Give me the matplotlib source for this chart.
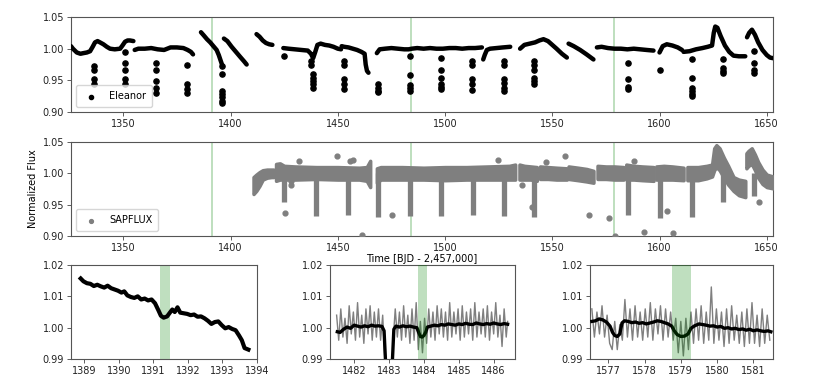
import matplotlib
matplotlib.use("Agg")
import matplotlib.pyplot as plt

# ---- Eleanor light curve (time, flux per segment) ----
eleanor_t = [
    [1325.6, 1326.5, 1328.3, 1330.0, 1331.4, 1333.0, 1334.5, 1335.7, 1336.8, 1338.0, 1339.1,
     1340.7, 1342.3, 1343.8, 1346.0, 1348.5, 1349.6, 1350.8, 1352.0, 1353.1, 1354.7],
    [1355.3, 1357.0, 1360.0, 1363.0, 1366.0, 1369.0, 1372.0, 1375.0, 1378.0, 1380.0, 1381.5, 1382.5],
    [1386.2, 1387.5, 1389.0, 1390.5, 1392.0, 1393.5, 1394.5, 1395.3, 1396.0],
    [1396.9, 1398.5, 1400.5, 1402.5, 1404.5, 1406.3, 1407.5],
    [1412.1, 1413.5, 1415.0, 1416.5, 1418.0, 1419.5],
    [1424.6, 1427.0, 1430.0, 1433.0, 1436.0, 1437.5, 1438.5, 1439.5, 1440.5, 1442.0, 1444.0,
     1446.0, 1448.0, 1450.0, 1451.5],
    [1451.8, 1453.0, 1455.0, 1457.0, 1459.0, 1461.0, 1462.5, 1463.0, 1463.6, 1464.3],
    [1468.2, 1469.5, 1472.0, 1475.0, 1478.0, 1481.0, 1483.0, 1484.5, 1487.0, 1490.0, 1493.0,
     1496.0, 1499.0, 1502.0, 1505.0, 1508.0, 1511.0, 1514.0, 1517.2],
    [1517.8, 1518.5, 1519.5, 1521.0, 1524.0, 1527.0, 1530.4],
    [1535.0, 1537.0, 1539.5, 1542.0, 1544.0, 1545.9, 1548.0, 1550.0, 1552.0, 1554.5, 1556.8],
    [1557.6, 1560.0, 1563.0, 1566.0, 1569.2],
    [1570.8, 1573.0, 1576.0, 1579.0, 1582.0, 1585.0, 1588.0, 1591.0, 1594.0, 1597.2],
    [1600.0, 1601.5, 1603.4, 1606.0, 1608.5, 1610.5],
    [1611.2, 1614.0, 1617.0, 1620.0, 1622.5, 1624.5, 1625.3, 1626.0, 1627.0, 1628.5, 1630.5,
     1632.5, 1634.5, 1637.0, 1640.0],
    [1640.8, 1641.8, 1643.1, 1644.5, 1646.0, 1648.0, 1650.0, 1651.5, 1652.9],
]
eleanor_f = [
    [1.004, 1.000, 0.994, 0.992, 0.993, 0.994, 0.996, 1.003, 1.010, 1.012, 1.010,
     1.007, 1.003, 1.000, 0.999, 1.000, 1.005, 1.011, 1.013, 1.013, 1.012],
    [0.998, 1.000, 1.000, 1.001, 0.999, 0.998, 1.002, 1.002, 1.001, 0.998, 0.995, 0.991],
    [1.026, 1.021, 1.015, 1.010, 1.004, 0.998, 0.990, 0.982, 0.975],
    [1.016, 1.012, 1.003, 0.995, 0.987, 0.980, 0.975],
    [1.023, 1.019, 1.013, 1.009, 1.007, 1.006],
    [1.001, 1.000, 0.999, 0.998, 0.997, 0.992, 0.985, 0.995, 1.006, 1.008, 1.006,
     1.005, 1.003, 1.000, 0.999],
    [1.004, 1.003, 1.002, 1.000, 0.998, 0.995, 0.992, 0.975, 0.965, 0.962],
    [0.993, 0.999, 1.000, 1.001, 1.000, 0.999, 0.999, 1.000, 1.001, 1.000, 1.001,
     1.000, 1.000, 1.001, 1.001, 1.000, 1.001, 1.001, 1.002],
    [0.983, 0.990, 0.998, 1.000, 1.001, 1.002, 1.003],
    [1.000, 1.006, 1.008, 1.010, 1.013, 1.015, 1.012, 1.006, 1.000, 0.992, 0.986],
    [1.008, 1.004, 0.998, 0.991, 0.983],
    [1.002, 1.003, 1.001, 1.000, 1.000, 0.999, 1.000, 0.999, 0.998, 0.997],
    [0.994, 1.004, 1.007, 1.005, 1.002, 0.998],
    [0.995, 0.996, 0.999, 1.001, 1.003, 1.005, 1.025, 1.035, 1.033, 1.020, 1.005,
     0.995, 0.989, 0.988, 0.988],
    [1.018, 1.025, 1.030, 1.022, 1.010, 0.998, 0.990, 0.986, 0.985],
]
# transit / outlier points below the main trend
eleanor_pts_t = [1336.2, 1336.2, 1336.2, 1336.2, 1350.6, 1350.6, 1350.6, 1350.6, 1350.6,
                 1365.2, 1365.2, 1365.2, 1365.2, 1365.2, 1379.7, 1379.7, 1379.7, 1379.7,
                 1396.0, 1396.0, 1396.0, 1396.0, 1396.0, 1396.0, 1396.0,
                 1424.9, 1437.6, 1437.6, 1438.4, 1438.4, 1438.4, 1438.4, 1438.4,
                 1452.9, 1452.9, 1452.9, 1452.9, 1452.9,
                 1468.9, 1468.9, 1468.9, 1468.9, 1483.7, 1483.7, 1483.7, 1483.7, 1483.7,
                 1498.0, 1498.0, 1498.0, 1498.0, 1498.0, 1498.0,
                 1512.5, 1512.5, 1512.5, 1512.5, 1512.5,
                 1527.6, 1527.6, 1527.6, 1527.6, 1527.6, 1527.6,
                 1541.7, 1541.7, 1541.7, 1541.7, 1541.7, 1541.7,
                 1585.5, 1585.5, 1585.5, 1585.5, 1600.3,
                 1615.1, 1615.1, 1615.1, 1615.1, 1615.1, 1615.1,
                 1629.6, 1629.6, 1629.6, 1629.6, 1644.2, 1644.2, 1644.2, 1644.2]
eleanor_pts_f = [0.972, 0.967, 0.952, 0.944, 0.994, 0.977, 0.967, 0.952, 0.945,
                 0.978, 0.967, 0.949, 0.938, 0.930, 0.974, 0.944, 0.937, 0.930,
                 0.973, 0.960, 0.933, 0.928, 0.923, 0.917, 0.915,
                 0.988, 0.980, 0.975, 0.960, 0.954, 0.949, 0.944, 0.938,
                 0.980, 0.975, 0.952, 0.944, 0.936,
                 0.944, 0.938, 0.933, 0.931, 0.988, 0.959, 0.942, 0.938, 0.933,
                 0.986, 0.967, 0.954, 0.945, 0.940, 0.936,
                 0.981, 0.975, 0.952, 0.944, 0.935,
                 0.981, 0.975, 0.952, 0.946, 0.938, 0.933,
                 0.980, 0.975, 0.967, 0.954, 0.949, 0.944,
                 0.978, 0.952, 0.940, 0.936, 0.966,
                 0.983, 0.954, 0.938, 0.933, 0.928, 0.925,
                 0.983, 0.970, 0.965, 0.962, 0.996, 0.978, 0.967, 0.962]

# ---- SAPFLUX: band envelope per segment ----
sap_t = [
    [1410.7, 1412.0, 1413.5, 1415.0, 1417.0, 1419.0, 1420.0],
    [1421.2, 1423.0, 1425.0, 1430.0, 1440.0, 1450.0, 1460.0, 1463.5, 1465.1],
    [1468.2, 1470.0, 1480.0, 1490.0, 1500.0, 1510.0, 1520.0, 1530.0, 1532.7],
    [1534.7, 1537.0, 1540.0, 1542.8],
    [1544.3, 1548.0, 1552.0, 1556.8],
    [1557.6, 1562.0, 1566.0, 1569.2],
    [1571.1, 1575.0, 1579.0, 1583.2],
    [1584.5, 1588.0, 1592.0, 1597.2],
    [1598.5, 1602.0, 1606.0, 1611.2],
    [1613.0, 1618.0, 1622.0, 1624.5, 1625.5, 1626.5, 1628.0, 1630.0, 1632.0, 1634.5, 1637.0, 1640.0],
    [1640.5, 1641.5, 1643.0, 1644.5, 1646.0, 1648.0, 1650.0, 1652.9],
]
sap_hi = [
    [0.994, 0.998, 1.002, 1.005, 1.006, 1.006, 1.006],
    [1.015, 1.016, 1.012, 1.011, 1.010, 1.010, 1.009, 1.010, 1.020],
    [1.008, 1.010, 1.010, 1.009, 1.010, 1.010, 1.011, 1.012, 1.014],
    [1.014, 1.012, 1.011, 1.010],
    [1.011, 1.010, 1.009, 1.008],
    [1.011, 1.009, 1.007, 1.004],
    [1.012, 1.011, 1.011, 1.010],
    [1.014, 1.012, 1.011, 1.010],
    [1.011, 1.012, 1.011, 1.009],
    [1.010, 1.010, 1.012, 1.014, 1.040, 1.045, 1.040, 1.025, 1.012, 0.994, 0.990, 0.988],
    [1.032, 1.036, 1.040, 1.030, 1.018, 1.006, 0.998, 0.995],
]
sap_lo = [
    [0.967, 0.972, 0.980, 0.990, 0.993, 0.994, 0.994],
    [0.988, 0.990, 0.990, 0.990, 0.991, 0.990, 0.990, 0.988, 0.978],
    [0.985, 0.990, 0.990, 0.990, 0.989, 0.990, 0.990, 0.990, 0.990],
    [0.990, 0.990, 0.990, 0.988],
    [0.991, 0.991, 0.990, 0.990],
    [0.991, 0.989, 0.987, 0.985],
    [0.991, 0.991, 0.990, 0.990],
    [0.990, 0.990, 0.989, 0.988],
    [0.990, 0.990, 0.990, 0.989],
    [0.989, 0.989, 0.992, 0.995, 1.005, 1.010, 1.005, 0.993, 0.982, 0.972, 0.965, 0.962],
    [1.008, 1.012, 1.015, 1.005, 0.993, 0.983, 0.978, 0.976],
]
sap_dip_t = [1424.9, 1439.9, 1454.6, 1468.9, 1483.7, 1498.2, 1513.0, 1527.6, 1541.7,
             1585.5, 1600.0, 1615.1, 1629.6, 1644.2]
sap_dip_f = [0.954, 0.932, 0.933, 0.931, 0.932, 0.932, 0.933, 0.932, 0.930,
             0.933, 0.928, 0.930, 0.954, 0.964]
sap_pts_t = [1425.4, 1428.1, 1428.1, 1432.1, 1449.5, 1455.7, 1457.0, 1461.2, 1475.2,
             1524.9, 1535.8, 1540.5, 1547.0, 1556.0, 1566.9, 1576.5, 1579.3, 1587.9,
             1593.0, 1603.7, 1606.5, 1646.6]
sap_pts_f = [0.937, 0.988, 0.981, 1.019, 1.027, 1.020, 1.021, 0.902, 0.934,
             1.021, 0.981, 0.946, 1.018, 1.028, 0.934, 0.929, 0.900, 1.020,
             0.907, 0.940, 0.905, 0.955]

# ---- marked events ----
event_t = [1391.3, 1483.95, 1579.0]
event_span = [(1391.18, 1391.48), (1483.83, 1484.08), (1578.77, 1579.29)]

# ---- zoom 1: Eleanor around 1391 ----
z1_t = [1388.90, 1388.98, 1389.08, 1389.18, 1389.28, 1389.38, 1389.48, 1389.58, 1389.68, 1389.78,
        1389.88, 1389.98, 1390.08, 1390.16, 1390.25, 1390.35, 1390.45, 1390.55, 1390.65, 1390.75,
        1390.85, 1390.95, 1391.05, 1391.15, 1391.22, 1391.30, 1391.40, 1391.48, 1391.55, 1391.62,
        1391.70, 1391.78, 1391.88, 1391.98, 1392.08, 1392.18, 1392.28, 1392.38, 1392.48, 1392.58,
        1392.68, 1392.78, 1392.88, 1392.98, 1393.08, 1393.18, 1393.28, 1393.38, 1393.48, 1393.56,
        1393.64, 1393.75]
z1_f = [1.0157, 1.0148, 1.0142, 1.0140, 1.0133, 1.0137, 1.0132, 1.0128, 1.0134, 1.0126,
        1.0122, 1.0118, 1.0112, 1.0116, 1.0103, 1.0098, 1.0095, 1.0100, 1.0090, 1.0093,
        1.0087, 1.0090, 1.0078, 1.0055, 1.0038, 1.0032, 1.0036, 1.0048, 1.0058, 1.0050,
        1.0065, 1.0048, 1.0046, 1.0044, 1.0040, 1.0042, 1.0035, 1.0036, 1.0030, 1.0022,
        1.0012, 1.0018, 1.0020, 1.0008, 0.9998, 1.0002, 0.9996, 0.9992, 0.9975, 0.9960,
        0.9935, 0.9930]

# ---- zoom 2: SAP (gray) + smoothed (black) around 1484 ----
z2_gray_t = [
    [1481.50, 1481.56, 1481.62, 1481.68, 1481.74, 1481.80, 1481.86, 1481.92, 1481.98, 1482.04,
     1482.10, 1482.16, 1482.22, 1482.28, 1482.34, 1482.40, 1482.46, 1482.52, 1482.58, 1482.64,
     1482.70, 1482.76, 1482.82, 1482.88, 1482.92],
    [1483.08, 1483.12, 1483.18, 1483.24, 1483.30, 1483.36, 1483.42, 1483.48, 1483.54, 1483.60,
     1483.66, 1483.72, 1483.78, 1483.84, 1483.90, 1483.96, 1484.02, 1484.08, 1484.14, 1484.20,
     1484.26, 1484.32, 1484.38, 1484.44, 1484.50, 1484.56, 1484.62, 1484.68, 1484.74, 1484.80,
     1484.86, 1484.92, 1484.98, 1485.04, 1485.10, 1485.16, 1485.22, 1485.28, 1485.34, 1485.40,
     1485.46, 1485.52, 1485.58, 1485.64, 1485.70, 1485.76, 1485.82, 1485.88, 1485.94, 1486.00,
     1486.06, 1486.12, 1486.18, 1486.24, 1486.30, 1486.36, 1486.40],
]
z2_gray_f = [
    [1.004, 0.996, 1.006, 0.997, 1.003, 0.995, 1.007, 0.998, 1.005, 0.996,
     1.008, 0.997, 1.004, 0.995, 1.006, 0.998, 1.007, 0.996, 1.005, 0.997,
     1.006, 0.996, 1.004, 0.990, 0.985],
    [0.985, 0.996, 1.006, 0.997, 1.005, 0.996, 1.007, 0.997, 1.004, 0.995,
     1.006, 0.996, 1.008, 0.993, 1.002, 0.992, 1.003, 0.995, 1.006, 0.997,
     1.005, 0.996, 1.007, 0.998, 1.006, 0.997, 1.005, 0.996, 1.008, 0.997,
     1.005, 0.998, 1.006, 0.996, 1.007, 0.997, 1.005, 0.998, 1.006, 0.996,
     1.008, 0.997, 1.005, 0.998, 1.006, 0.997, 1.007, 0.996, 1.005, 0.998,
     1.008, 0.997, 1.004, 0.994, 1.006, 0.997, 1.002],
]
z2_black_t = [
    [1481.52, 1481.6, 1481.7, 1481.8, 1481.9, 1482.0, 1482.1, 1482.2, 1482.3, 1482.4,
     1482.5, 1482.6, 1482.7, 1482.8, 1482.86, 1482.92],
    [1483.08, 1483.14, 1483.2, 1483.3, 1483.4, 1483.5, 1483.6, 1483.7, 1483.8, 1483.85,
     1483.9, 1483.95, 1484.0, 1484.05, 1484.1, 1484.2, 1484.3, 1484.4, 1484.5, 1484.6,
     1484.7, 1484.8, 1484.9, 1485.0, 1485.1, 1485.2, 1485.3, 1485.4, 1485.5, 1485.6,
     1485.7, 1485.8, 1485.9, 1486.0, 1486.1, 1486.2, 1486.3, 1486.4],
]
z2_black_f = [
    [0.9987, 0.9985, 0.9995, 1.0002, 0.9998, 1.0008, 1.0005, 1.0002, 1.0006, 1.0003,
     1.0008, 1.0005, 1.0006, 1.0004, 0.9990, 0.9850],
    [0.9850, 0.9995, 1.0005, 1.0002, 1.0006, 1.0003, 1.0005, 1.0002, 1.0000, 0.9985,
     0.9972, 0.9970, 0.9975, 0.9985, 1.0002, 1.0005, 1.0008, 1.0006, 1.0010, 1.0008,
     1.0012, 1.0010, 1.0008, 1.0012, 1.0010, 1.0014, 1.0011, 1.0010, 1.0015, 1.0012,
     1.0010, 1.0013, 1.0011, 1.0015, 1.0012, 1.0010, 1.0013, 1.0011],
]

# ---- zoom 3: SAP (gray) + smoothed (black) around 1579 ----
z3_gray_t = [1576.55, 1576.62, 1576.69, 1576.76, 1576.83, 1576.90, 1576.97, 1577.04, 1577.11, 1577.18,
             1577.25, 1577.32, 1577.39, 1577.46, 1577.53, 1577.60, 1577.67, 1577.74, 1577.81, 1577.88,
             1577.95, 1578.02, 1578.09, 1578.16, 1578.23, 1578.30, 1578.37, 1578.44, 1578.51, 1578.58,
             1578.65, 1578.72, 1578.79, 1578.86, 1578.93, 1579.00, 1579.07, 1579.14, 1579.21, 1579.28,
             1579.35, 1579.42, 1579.49, 1579.56, 1579.63, 1579.70, 1579.77, 1579.84, 1579.91, 1579.98,
             1580.05, 1580.12, 1580.19, 1580.26, 1580.33, 1580.40, 1580.47, 1580.54, 1580.61, 1580.68,
             1580.75, 1580.82, 1580.89, 1580.96, 1581.03, 1581.10, 1581.17, 1581.24, 1581.31, 1581.38,
             1581.45]
z3_gray_f = [1.006, 0.997, 1.005, 0.998, 1.007, 0.997, 1.004, 0.995, 0.993, 1.002,
             0.993, 1.001, 0.996, 1.009, 0.997, 1.006, 0.996, 1.007, 0.997, 1.005,
             0.996, 1.006, 0.997, 1.008, 0.996, 1.006, 0.998, 1.007, 0.996, 1.006,
             0.997, 1.005, 0.996, 1.003, 0.992, 1.002, 0.991, 1.003, 0.993, 1.005,
             0.995, 1.006, 0.996, 1.007, 0.995, 1.005, 0.996, 1.013, 0.995, 1.006,
             0.996, 1.005, 0.994, 1.006, 0.995, 1.007, 0.996, 1.004, 0.995, 1.005,
             0.994, 1.006, 0.995, 1.008, 0.995, 1.004, 0.994, 1.006, 0.995, 1.004,
             0.996]
z3_black_t = [1576.55, 1576.65, 1576.75, 1576.85, 1576.95, 1577.05, 1577.12, 1577.18, 1577.25, 1577.32,
              1577.38, 1577.45, 1577.55, 1577.65, 1577.75, 1577.85, 1577.95, 1578.05, 1578.15, 1578.25,
              1578.35, 1578.45, 1578.55, 1578.65, 1578.75, 1578.82, 1578.9, 1579.0, 1579.1, 1579.2,
              1579.28, 1579.38, 1579.5, 1579.6, 1579.7, 1579.8, 1579.9, 1580.0, 1580.1, 1580.2,
              1580.3, 1580.4, 1580.5, 1580.6, 1580.7, 1580.8, 1580.9, 1581.0, 1581.1, 1581.2,
              1581.3, 1581.4, 1581.48]
z3_black_f = [1.0020, 1.0022, 1.0028, 1.0025, 1.0018, 1.0005, 0.9985, 0.9975, 0.9972, 0.9980,
              1.0015, 1.0022, 1.0020, 1.0016, 1.0018, 1.0014, 1.0016, 1.0012, 1.0015, 1.0018,
              1.0022, 1.0020, 1.0016, 1.0012, 1.0005, 0.9990, 0.9978, 0.9972, 0.9973, 0.9980,
              0.9998, 1.0006, 1.0012, 1.0010, 1.0008, 1.0005, 1.0006, 1.0002, 1.0004, 0.9998,
              1.0000, 0.9996, 0.9998, 0.9994, 0.9996, 0.9992, 0.9995, 0.9990, 0.9993, 0.9990,
              0.9988, 0.9990, 0.9987]

plt.rcParams["font.size"] = 7
plt.rcParams["axes.edgecolor"] = "#555555"
plt.rcParams["axes.linewidth"] = 0.8
plt.rcParams["xtick.color"] = "#444444"
plt.rcParams["ytick.color"] = "#444444"
plt.rcParams["xtick.labelcolor"] = "#222222"
plt.rcParams["ytick.labelcolor"] = "#222222"

fig = plt.figure(figsize=(8.17, 3.81), dpi=100)
ax1 = fig.add_axes([0.0869, 0.706, 0.8592, 0.2493])
ax2 = fig.add_axes([0.0869, 0.3806, 0.8592, 0.2467])
axz1 = fig.add_axes([0.0869, 0.0577, 0.2277, 0.2467])
axz2 = fig.add_axes([0.4039, 0.0577, 0.2264, 0.2467])
axz3 = fig.add_axes([0.7222, 0.0577, 0.2240, 0.2467])

gray = "#7f7f7f"

# top: Eleanor
for t, f in zip(eleanor_t, eleanor_f):
    ax1.plot(t, f, color="black", lw=3.2, solid_capstyle="round", zorder=3)
ax1.scatter(eleanor_pts_t, eleanor_pts_f, s=14, color="black", label="Eleanor", zorder=3)

# middle: SAPFLUX
for t, hi, lo in zip(sap_t, sap_hi, sap_lo):
    ax2.fill_between(t, lo, hi, color=gray, lw=2.5, edgecolor=gray, zorder=3)
ax2.vlines(sap_dip_t, sap_dip_f, 1.0, color=gray, lw=3.8, zorder=3)
ax2.scatter(sap_pts_t, sap_pts_f, s=12, color=gray, label="SAPFLUX", zorder=3)

for ax in (ax1, ax2):
    for et in event_t:
        ax.axvline(et, color="green", alpha=0.3, lw=1.2, zorder=1)
    ax.set_xlim(1325.6, 1652.9)
    ax.set_ylim(0.90, 1.05)
    ax.set_xticks([1350, 1400, 1450, 1500, 1550, 1600, 1650])
    ax.set_yticks([0.90, 0.95, 1.00, 1.05])
    ax.set_yticklabels(["0.90", "0.95", "1.00", "1.05"])
    ax.tick_params(length=3, width=0.6, pad=2)
    ax.legend(loc="lower left", fontsize=7, handletextpad=0.8, borderpad=0.6, markerscale=0.8)

ax2.set_ylabel("Normalized Flux", labelpad=3)
ax2.set_xlabel("Time [BJD - 2,457,000]", labelpad=1)

# zoom 1
axz1.plot(z1_t, z1_f, color="black", lw=3.0, zorder=3)
axz1.axvspan(*event_span[0], color="green", alpha=0.25, lw=0, zorder=1)
axz1.set_xlim(1388.62, 1394.0)
axz1.set_xticks([1389, 1390, 1391, 1392, 1393, 1394])

# zoom 2
for t, f in zip(z2_gray_t, z2_gray_f):
    axz2.plot(t, f, color=gray, lw=1.0, zorder=2)
for t, f in zip(z2_black_t, z2_black_f):
    axz2.plot(t, f, color="black", lw=2.4, zorder=3)
axz2.axvspan(*event_span[1], color="green", alpha=0.25, lw=0, zorder=4)
axz2.set_xlim(1481.31, 1486.61)
axz2.set_xticks([1482, 1483, 1484, 1485, 1486])

# zoom 3
axz3.plot(z3_gray_t, z3_gray_f, color=gray, lw=1.0, zorder=2)
axz3.plot(z3_black_t, z3_black_f, color="black", lw=2.4, zorder=3)
axz3.axvspan(*event_span[2], color="green", alpha=0.25, lw=0, zorder=4)
axz3.set_xlim(1576.5, 1581.54)
axz3.set_xticks([1577, 1578, 1579, 1580, 1581])

for ax in (axz1, axz2, axz3):
    ax.set_ylim(0.99, 1.02)
    ax.set_yticks([0.99, 1.00, 1.01, 1.02])
    ax.set_yticklabels(["0.99", "1.00", "1.01", "1.02"])
    ax.tick_params(length=3, width=0.6, pad=2)

fig.savefig("out.png", dpi=100)
